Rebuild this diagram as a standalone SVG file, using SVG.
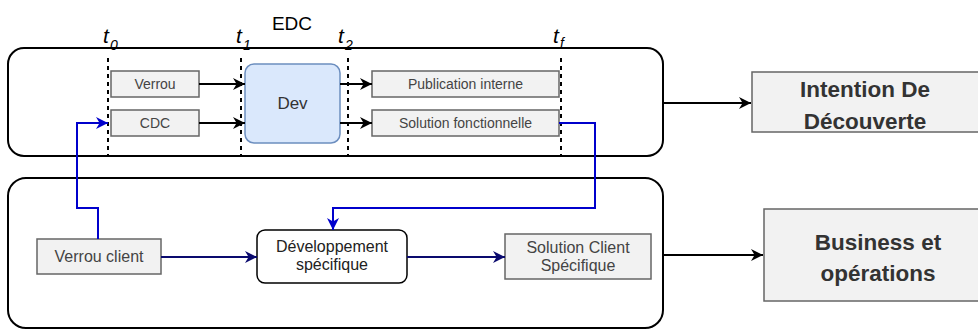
<svg xmlns="http://www.w3.org/2000/svg" width="978" height="330" viewBox="0 0 978 330">
<defs>
<marker id="ab" viewBox="0 0 10 10" refX="10" refY="5" markerWidth="8" markerHeight="8" orient="auto" markerUnits="userSpaceOnUse"><path d="M0,0 L10,5 L0,10 L3,5 z" fill="#000"/></marker>
<marker id="abig" viewBox="0 0 10 10" refX="10" refY="5" markerWidth="12" markerHeight="12" orient="auto" markerUnits="userSpaceOnUse"><path d="M0,0 L10,5 L0,10 L3,5 z" fill="#000"/></marker>
<marker id="ablue" viewBox="0 0 10 10" refX="10" refY="5" markerWidth="12" markerHeight="12" orient="auto" markerUnits="userSpaceOnUse"><path d="M0,0 L10,5 L0,10 L3,5 z" fill="#0000cc"/></marker>
<marker id="anavy" viewBox="0 0 10 10" refX="10" refY="5" markerWidth="12" markerHeight="12" orient="auto" markerUnits="userSpaceOnUse"><path d="M0,0 L10,5 L0,10 L3,5 z" fill="#0a0a6e"/></marker>
<style>
text{font-family:"Liberation Sans",Arial,sans-serif;}
.cont{fill:none;stroke:#000;stroke-width:2;}
.box{fill:#f2f2f2;stroke:#666;stroke-width:1.5;}
.s{font-size:14px;fill:#444;text-anchor:middle;}
.m{font-size:16px;fill:#444;text-anchor:middle;}
.b{font-size:22.5px;font-weight:bold;fill:#333;text-anchor:middle;}
.dash{stroke:#000;stroke-width:2;stroke-dasharray:4 4;fill:none;}
.t{font-style:italic;font-size:21px;fill:#000;}
.sub{font-style:italic;font-size:14px;fill:#000;}
.blk{stroke:#000;stroke-width:2;fill:none;}
.blue{stroke:#0000cc;stroke-width:2;fill:none;}
.navy{stroke:#0a0a6e;stroke-width:2;fill:none;}
</style>
</defs>

<g id="containers">
<rect x="8" y="48" width="655" height="108" rx="16" class="cont"/>
<rect x="8" y="178" width="655" height="150" rx="18" class="cont"/>
</g>

<g id="timeline">
<line x1="108" y1="58" x2="108" y2="157" class="dash"/>
<line x1="241" y1="58" x2="241" y2="157" class="dash"/>
<line x1="348" y1="58" x2="348" y2="157" class="dash"/>
<line x1="561" y1="58" x2="561" y2="157" class="dash"/>
<text x="103" y="43" class="t">t</text><text x="110" y="50" class="sub">0</text>
<text x="236" y="43" class="t">t</text><text x="243" y="50" class="sub">1</text>
<text x="338" y="43" class="t">t</text><text x="345" y="50" class="sub">2</text>
<text x="553" y="43" class="t">t</text><text x="560" y="48" class="sub" font-size="11">f</text>
<text x="292" y="30" font-size="19" text-anchor="middle" fill="#000">EDC</text>
</g>

<g id="verrou"><rect x="111" y="71" width="88" height="26" class="box"/><text x="155" y="89" class="s">Verrou</text></g>
<g id="cdc"><rect x="111" y="110" width="88" height="26" class="box"/><text x="155" y="128" class="s">CDC</text></g>
<g id="dev"><rect x="245" y="64" width="95" height="79" rx="9" fill="#dae8fc" stroke="#6c8ebf" stroke-width="1.5"/><text x="292.5" y="109" font-size="17" fill="#333" text-anchor="middle">Dev</text></g>
<g id="publication"><rect x="372" y="71" width="187" height="26" class="box"/><text x="465.5" y="89" class="s">Publication interne</text></g>
<g id="solution-fonctionnelle"><rect x="372" y="110" width="187" height="26" class="box"/><text x="465.5" y="128" class="s">Solution fonctionnelle</text></g>

<g id="verrou-client"><rect x="37" y="239" width="124" height="35" class="box"/><text x="99" y="262" class="m">Verrou client</text></g>
<g id="developpement"><rect x="257" y="230" width="150" height="53" rx="8" fill="#fff" stroke="#000" stroke-width="1.5"/><text x="332" y="252" font-size="16" fill="#222" text-anchor="middle">Développement</text><text x="332" y="270" font-size="16" fill="#222" text-anchor="middle">spécifique</text></g>
<g id="solution-client"><rect x="505" y="234" width="146" height="45" class="box"/><text x="578" y="253" class="m">Solution Client</text><text x="578" y="271" class="m">Spécifique</text></g>

<g id="intention"><rect x="752" y="72" width="232" height="60" fill="#f2f2f2" stroke="#666" stroke-width="1.5"/><text x="865" y="97" class="b">Intention De</text><text x="865" y="129" class="b">Découverte</text></g>
<g id="business"><rect x="764" y="209" width="222" height="92" fill="#f2f2f2" stroke="#666" stroke-width="1.5"/><text x="878" y="250" class="b">Business et</text><text x="878" y="281" class="b">opérations</text></g>

<g id="connectors">
<line x1="199" y1="84" x2="245" y2="84" class="blk" marker-end="url(#abig)"/>
<line x1="199" y1="123" x2="245" y2="123" class="blk" marker-end="url(#abig)"/>
<line x1="340" y1="84" x2="372" y2="84" class="blk" marker-end="url(#abig)"/>
<line x1="340" y1="123" x2="372" y2="123" class="blk" marker-end="url(#abig)"/>
<line x1="663" y1="103" x2="751" y2="103" class="blk" marker-end="url(#abig)"/>
<line x1="663" y1="255" x2="763" y2="255" class="blk" marker-end="url(#abig)"/>
<path d="M559,123 H595 V208 H333 V230" class="blue" marker-end="url(#ablue)"/>
<path d="M98,239 V208 H77 V123 H108" class="blue" marker-end="url(#ablue)"/>
<line x1="161" y1="257" x2="257" y2="257" class="navy" marker-end="url(#anavy)"/>
<line x1="407" y1="257" x2="505" y2="257" class="navy" marker-end="url(#anavy)"/>
</g>
</svg>
